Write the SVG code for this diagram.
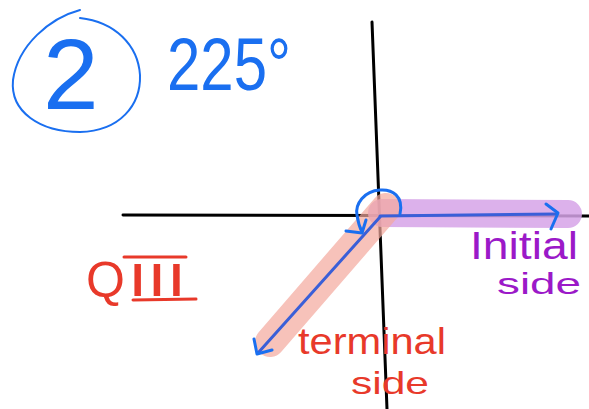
<svg xmlns="http://www.w3.org/2000/svg" width="589" height="409" viewBox="0 0 589 409">
<style>
.ax{stroke:#000;stroke-width:3;fill:none;stroke-linecap:round}
.bl{stroke:#1a6ff0;stroke-width:3;fill:none;stroke-linecap:round;stroke-linejoin:round}
.ray{stroke:#3a5fd8;stroke-width:3;fill:none;stroke-linecap:round;stroke-linejoin:round}
.hl{fill:none;stroke-linecap:round}
.t{font-family:"Liberation Sans","Noto Sans",sans-serif}
.blue{fill:#1a6ff0}
.red{fill:#e8392a}
.pur{fill:#9b19c8}
</style>
<rect width="589" height="409" fill="#fff"/>
<g id="axes">
<line class="ax" x1="123" y1="215" x2="589" y2="216"/>
<line class="ax" x1="372" y1="22" x2="387" y2="409"/>
</g>
<g id="highlights">
<line class="hl" x1="382" y1="213" x2="568" y2="214" stroke="#d6a3e8" stroke-opacity="0.85" stroke-width="28"/>
<line class="hl" x1="386" y1="208" x2="270" y2="342" stroke="#f4a89c" stroke-opacity="0.7" stroke-width="30"/>
</g>
<g id="connectors">
<line class="ray" x1="380" y1="216" x2="556" y2="214"/>
<path class="bl" d="M546,204 L558,213 L551,229"/>
<line class="ray" x1="380" y1="217" x2="258" y2="353"/>
<path class="bl" d="M254,339 L257,354 L272,350"/>
<path class="bl" d="M400,214 C404,196 392,189 380,190 C364,191 355,204 357,215 C358,222 360,228 362,232"/>
<path class="bl" d="M346,231 L362,233 L366,220"/>
</g>
<g id="number">
<path d="M80,10 C50,18 18,45 13,80 C10,112 40,132 80,132 C120,131 141,105 140,75 C138,45 115,22 80,18" fill="none" stroke="#1a6ff0" stroke-width="2" stroke-linecap="round"/>
<text class="t blue" x="43" y="109" font-size="100">2</text>
</g>
<g id="angle">
<text class="t blue" x="167" y="90" font-size="74" textLength="124" lengthAdjust="spacingAndGlyphs">225°</text>
</g>
<g id="quadrant">
<text class="t red" x="86" y="297" font-size="50">Q</text>
<text class="t red" x="128" y="296" font-size="46" textLength="58" lengthAdjust="spacingAndGlyphs">III</text>
<line x1="124" y1="257" x2="186" y2="257" stroke="#e8392a" stroke-width="3" stroke-linecap="round"/>
<line x1="133" y1="300" x2="196" y2="299" stroke="#e8392a" stroke-width="3" stroke-linecap="round"/>
</g>
<g id="initial-label">
<text class="t pur" x="470" y="259" font-size="38" textLength="108" lengthAdjust="spacingAndGlyphs">Initial</text>
<text class="t pur" x="497" y="294" font-size="30" textLength="84" lengthAdjust="spacingAndGlyphs">side</text>
</g>
<g id="terminal-label">
<text class="t red" x="298" y="354" font-size="36" textLength="148" lengthAdjust="spacingAndGlyphs">terminal</text>
<text class="t red" x="351" y="394" font-size="32" textLength="78" lengthAdjust="spacingAndGlyphs">side</text>
</g>
</svg>
